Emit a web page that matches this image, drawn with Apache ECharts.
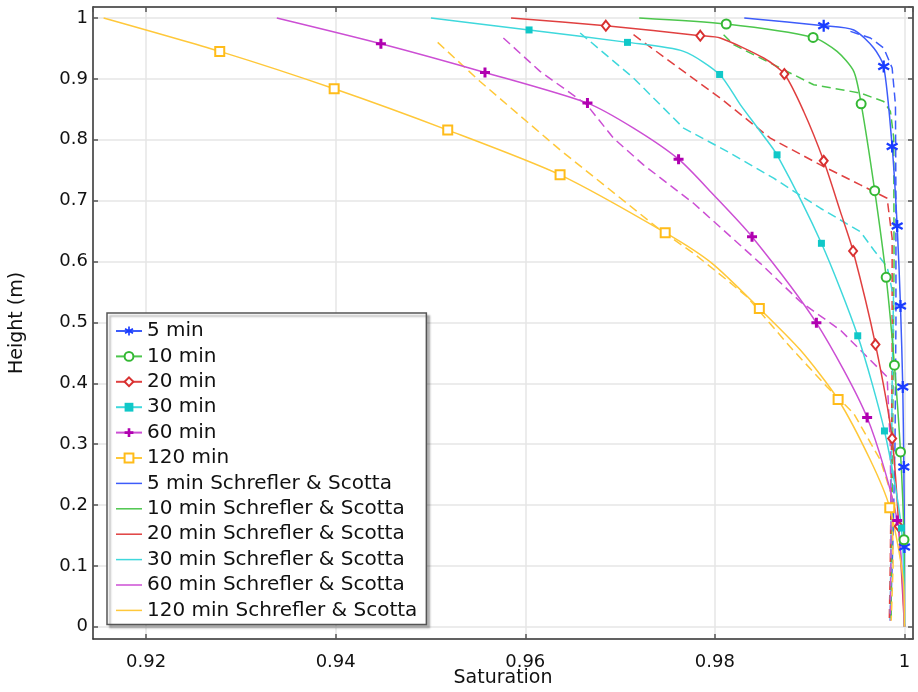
<!DOCTYPE html>
<html>
<head>
<meta charset="utf-8">
<script src="https://cdn.jsdelivr.net/npm/echarts@6/dist/echarts.min.js"></script>
<style>
html,body{margin:0;padding:0;background:#fff}
#chart{width:918px;height:692px}
</style>
</head>
<body>
<div id="chart"></div>
<script>
// axis ranges
var xRange = [0.9144, 1.0009];
var yRange = [-0.02, 1.018];

var simNames = ['5 min', '10 min', '20 min', '30 min', '60 min', '120 min'];
var refNames = ['5 min Schrefler & Scotta', '10 min Schrefler & Scotta', '20 min Schrefler & Scotta',
                '30 min Schrefler & Scotta', '60 min Schrefler & Scotta', '120 min Schrefler & Scotta'];

// simulation: points on the curve [saturation, height]
var curve5 = [[0.9831, 1.0], [0.99465, 0.9803], [0.99676, 0.9507], [1.0, 0.0]];
var curve10 = [[0.97202, 1.0], [0.99289, 0.945], [0.99465, 0.9122], [1.0, 0.0]];
var curve20 = [[0.9585, 1.0], [0.98057, 0.967], [0.98514, 0.9342], [0.98937, 0.8464], [0.99324, 0.6819], [1.0, 0.0]];
var curve30 = [[0.95005, 1.0], [0.9767, 0.9451], [0.98268, 0.8577], [0.98479, 0.8135], [1.0, 0.0]];
var curve60 = [[0.93379, 1.0], [0.97142, 0.8191], [0.9797, 0.7122], [1.0, 0.0]];
var curve120 = [[0.91552, 1.0], [0.9797, 0.597], [0.98902, 0.4545], [0.99641, 0.2735], [0.99985, 0.08], [1.0, 0.0]];

// simulation: marker points
var mark5 = [[0.99148, 0.9873], [0.99781, 0.9204], [0.9987, 0.7888], [0.99923, 0.6584], [0.99958, 0.527], [0.99982, 0.394], [0.99993, 0.2625], [1.0, 0.131]];
var mark10 = [[0.9812, 0.9901], [0.99036, 0.9681], [0.99543, 0.859], [0.99686, 0.7164], [0.99807, 0.574], [0.99894, 0.4298], [0.99958, 0.2872], [0.99995, 0.143]];
var mark20 = [[0.9685, 0.9873], [0.97846, 0.9709], [0.98733, 0.9079], [0.99148, 0.7653], [0.99458, 0.6173], [0.99694, 0.4638], [0.9987, 0.3092], [0.9994, 0.165]];
var mark30 = [[0.9604, 0.9803], [0.97078, 0.9599], [0.9805, 0.9072], [0.98656, 0.7752], [0.99124, 0.6299], [0.99507, 0.478], [0.99789, 0.3217], [0.99968, 0.1622]];
var mark60 = [[0.94477, 0.9577], [0.95575, 0.9105], [0.96656, 0.8602], [0.97617, 0.7681], [0.98392, 0.6408], [0.99071, 0.4993], [0.99606, 0.3438], [0.99923, 0.1748]];
var mark120 = [[0.92777, 0.9451], [0.93984, 0.8837], [0.95182, 0.8158], [0.96367, 0.7423], [0.97476, 0.6474], [0.98469, 0.523], [0.993, 0.3734], [0.99845, 0.1957]];

// Schrefler & Scotta
var ss5 = [[0.9943, 0.978], [0.99641, 0.9671], [0.99781, 0.9507], [0.9987, 0.9178], [0.99905, 0.8574], [0.9991, 0.7], [0.9991, 0.5], [0.999, 0.3], [0.9988, 0.15], [0.9986, 0.05], [0.9985, 0.01]];
var ss10 = [[0.98092, 0.9725], [0.98197, 0.9561], [0.9862, 0.9232], [0.99042, 0.8903], [0.99535, 0.8766], [0.99781, 0.8628], [0.99852, 0.8464], [0.99887, 0.8026], [0.9989, 0.6], [0.9988, 0.4], [0.9987, 0.2], [0.9986, 0.08], [0.9986, 0.01]];
var ss20 = [[0.97142, 0.9725], [0.9767, 0.9122], [0.98057, 0.8684], [0.98585, 0.8026], [0.99113, 0.7587], [0.99535, 0.7258], [0.99817, 0.7039], [0.9987, 0.6382], [0.9987, 0.45], [0.9986, 0.25], [0.9985, 0.1], [0.9984, 0.01]];
var ss30 = [[0.96579, 0.9753], [0.97142, 0.9013], [0.9767, 0.8191], [0.98163, 0.778], [0.9862, 0.7368], [0.99113, 0.6875], [0.99535, 0.649], [0.99676, 0.6189], [0.99817, 0.5914], [0.99884, 0.5421], [0.9987, 0.4], [0.9986, 0.2], [0.9985, 0.01]];
var ss60 = [[0.95769, 0.9671], [0.96156, 0.9122], [0.96649, 0.8574], [0.9693, 0.8026], [0.97247, 0.7587], [0.97775, 0.6957], [0.98479, 0.597], [0.98902, 0.5339], [0.99324, 0.4873], [0.99817, 0.4105], [0.9985, 0.3], [0.9986, 0.15], [0.9985, 0.01]];
var ss120 = [[0.95076, 0.9599], [0.95523, 0.8957], [0.96016, 0.8299], [0.96367, 0.7833], [0.96719, 0.7395], [0.97071, 0.6957], [0.97423, 0.6518], [0.97775, 0.6135], [0.98127, 0.5696], [0.98339, 0.5421], [0.98796, 0.4594], [0.99184, 0.394], [0.99465, 0.3503], [0.99747, 0.2735], [0.9987, 0.213], [0.9988, 0.1], [0.9986, 0.01]];

var lineColors = ['#3d5cfa', '#4cc64c', '#e04040', '#3fd8dc', '#cc4fd4', '#ffc83a'];
var markColors = ['#1a3cff', '#34b834', '#d83030', '#10c8c8', '#b000b0', '#ffbc1a'];

var asterisk = 'path://M-18,-100L18,-100L18,100L-18,100Z M78,-66L96,-34L-78,66L-96,34Z M96,34L78,66L-96,-34L-78,-66Z';
var plus = 'path://M-30,-100L30,-100L30,-30L100,-30L100,30L30,30L30,100L-30,100L-30,30L-100,30L-100,-30L-30,-30Z';
var symbols = [asterisk, 'emptyCircle', 'emptyDiamond', 'rect', plus, 'emptyRect'];
var symbolSizes = [12, 9, [8, 10], 7, 10, 9];
// thin bar used as the legend icon of the reference curves
var barIcon = 'path://M0,0L52,0L52,3L0,3Z';

var curves = [curve5, curve10, curve20, curve30, curve60, curve120];
var marks = [mark5, mark10, mark20, mark30, mark60, mark120];
var refs = [ss5, ss10, ss20, ss30, ss60, ss120];

var font = 'DejaVu Sans';

function simData(curve, mark) {
	var pts = [];
	curve.forEach(function (p) { pts.push({value: p, symbol: 'none'}); });
	mark.forEach(function (p) { pts.push({value: p}); });
	pts.sort(function (a, b) { return b.value[1] - a.value[1]; });
	return pts;
}

var series = [];
for (var i = 0; i < 6; i++) {
	series.push({
		name: simNames[i], type: 'line', smooth: 0.25,
		data: simData(curves[i], marks[i]),
		symbol: symbols[i], symbolSize: symbolSizes[i], showSymbol: true,
		lineStyle: {color: lineColors[i], width: 1.5},
		itemStyle: {color: markColors[i], borderWidth: 1.5},
		z: 3
	});
}
for (var j = 0; j < 6; j++) {
	series.push({
		name: refNames[j], type: 'line',
		data: refs[j], symbol: 'none',
		lineStyle: {color: lineColors[j], width: 1.5, type: [9, 5]},
		itemStyle: {color: lineColors[j]},
		z: 2
	});
}

var legendData = simNames.map(function (n) { return {name: n}; })
	.concat(refNames.map(function (n) { return {name: n, icon: barIcon}; }));

function axisBase(pos, range, labels) {
	return {
		type: 'value', position: pos, min: range[0], max: range[1],
		axisLine: {show: true, onZero: false, lineStyle: {color: '#333', width: 1.5}},
		axisTick: {show: true, inside: true, length: 5, lineStyle: {color: '#555', width: 1.5}},
		axisLabel: {show: labels, showMinLabel: false, showMaxLabel: false, fontSize: 18, color: '#111', fontFamily: font},
		splitLine: {show: labels, lineStyle: {color: '#e6e6e6', width: 1.5}}
	};
}

var xMain = axisBase('bottom', xRange, true);
xMain.splitNumber = 5;
xMain.name = 'Saturation';
xMain.nameLocation = 'middle';
xMain.nameGap = 30;
xMain.nameMoveOverlap = false;
xMain.nameTextStyle = {fontSize: 19, color: '#111', fontFamily: font};
xMain.axisLabel.margin = 14;
var xTop = axisBase('top', xRange, false);
xTop.splitNumber = 5;

var yMain = axisBase('left', yRange, true);
yMain.splitNumber = 10;
yMain.name = 'Height (m)';
yMain.nameLocation = 'middle';
yMain.nameGap = 66;
yMain.nameMoveOverlap = false;
yMain.nameTextStyle = {fontSize: 19, color: '#111', fontFamily: font};
yMain.axisLabel.margin = 5;
var yRight = axisBase('right', yRange, false);
yRight.splitNumber = 10;

var myChart = echarts.init(document.getElementById('chart'));
var option = {
	animation: false,
	backgroundColor: '#fff',
	grid: {left: 93, right: 5, top: 7, bottom: 53, containLabel: false, outerBoundsMode: 'none'},
	xAxis: [xMain, xTop],
	yAxis: [yMain, yRight],
	legend: {
		orient: 'vertical', left: 107, top: 313,
		padding: [8, 9, 4, 8],
		itemWidth: 26, itemHeight: 11, itemGap: 5.4,
		symbolKeepAspect: true,
		backgroundColor: '#fff', borderColor: '#555', borderWidth: 1.5, borderRadius: 0,
		shadowColor: 'rgba(0,0,0,0.3)', shadowBlur: 2, shadowOffsetX: 3, shadowOffsetY: 3,
		textStyle: {fontSize: 20, color: '#111', lineHeight: 20, fontFamily: font},
		data: legendData
	},
	series: series
};
myChart.setOption(option, true);
</script>
</body>
</html>
